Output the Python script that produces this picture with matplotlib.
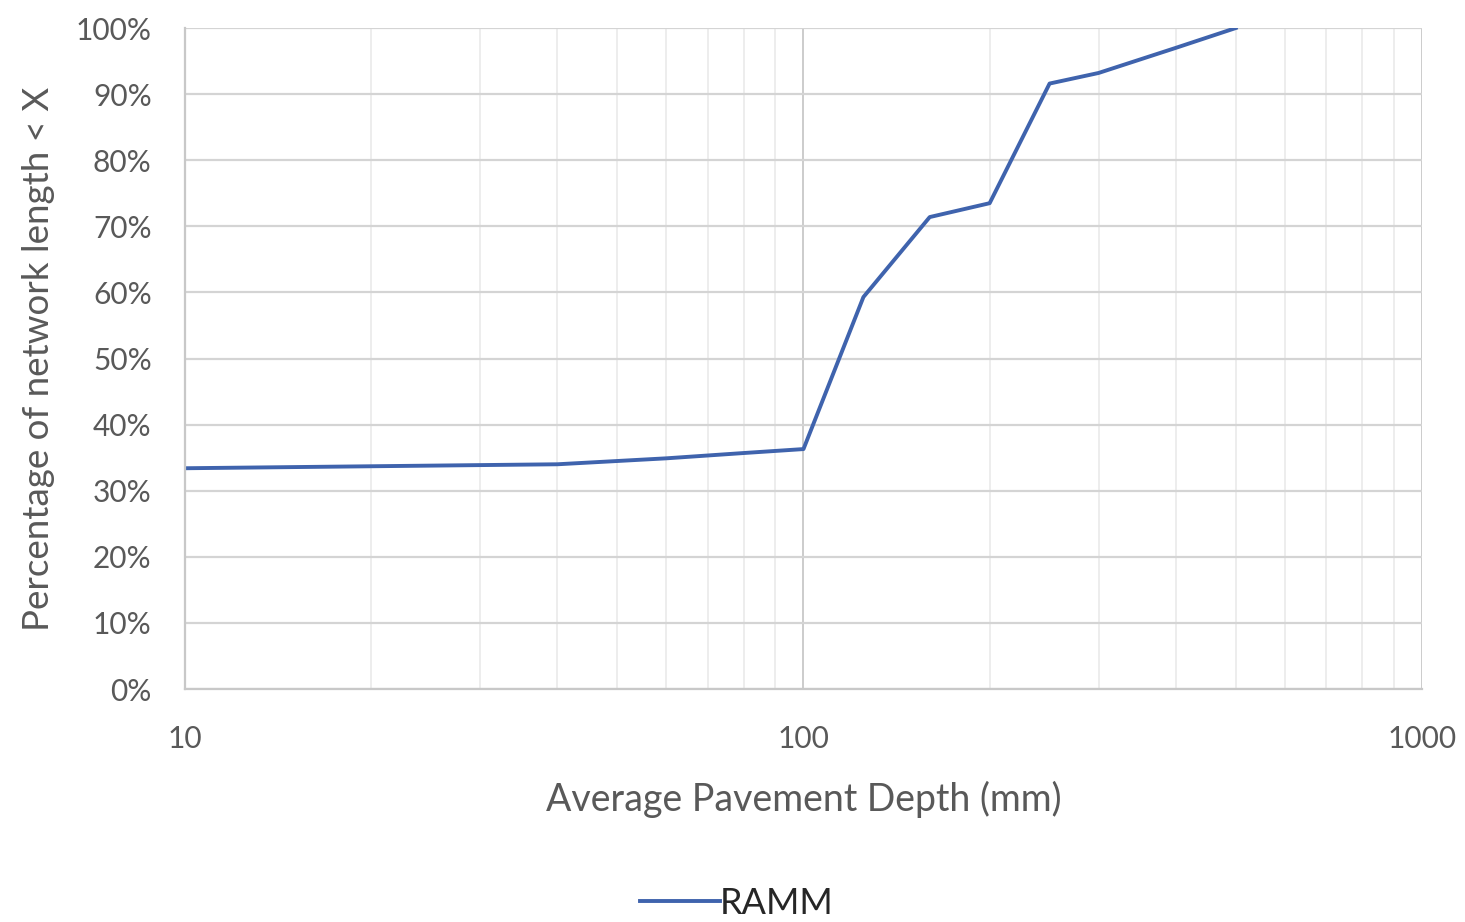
import matplotlib
matplotlib.use("Agg")
from matplotlib import pyplot as plt
from matplotlib.ticker import FixedLocator, FuncFormatter, NullFormatter

depth = [10, 40, 60, 80, 100, 125, 160, 200, 250, 300, 400, 500]
pct = [33.4, 34.0, 34.9, 35.7, 36.3, 59.3, 71.4, 73.5, 91.6, 93.2, 97.0, 100.0]
series_name = "RAMM"
x_ticks = [10, 100, 1000]
y_ticks = list(range(0, 101, 10))

plt.rcParams['font.family'] = ['Lato', 'DejaVu Sans']

fig = plt.figure(figsize=(14.65, 9.22), dpi=100)
ax = fig.add_axes([0.1263, 0.2527, 0.8443, 0.7169])

ax.plot(depth, pct, color='#3f63ad', linewidth=2.8, label=series_name)

ax.set_xscale('log')
ax.set_xlim(10, 1000)
ax.set_ylim(0, 100)
ax.xaxis.set_major_locator(FixedLocator(x_ticks))
ax.xaxis.set_major_formatter(FuncFormatter(lambda v, p: '%d' % v))
ax.xaxis.set_minor_formatter(NullFormatter())
ax.yaxis.set_major_locator(FixedLocator(y_ticks))
ax.yaxis.set_major_formatter(FuncFormatter(lambda v, p: '%d%%' % v))

ax.grid(True, which='major', axis='y', color='#d4d4d4', linewidth=1.6)
ax.grid(True, which='major', axis='x', color='#c8c8c8', linewidth=1.3)
ax.grid(True, which='minor', axis='x', color='#ececec', linewidth=1.3)
ax.set_axisbelow(True)

for s in ['top', 'right']:
    ax.spines[s].set_visible(False)
for s in ['left', 'bottom']:
    ax.spines[s].set_color('#c8c8c8')
    ax.spines[s].set_linewidth(1.6)

ax.tick_params(which='both', length=0, labelsize=21.5, labelcolor='#595959')
ax.tick_params(axis='x', pad=26)
ax.tick_params(axis='y', pad=24)

ax.set_xlabel('Average Pavement Depth (mm)', fontsize=27, color='#595959', labelpad=20)
ax.set_ylabel('Percentage of network length < X', fontsize=26.5, color='#595959', labelpad=15)

fig.legend(loc='center', bbox_to_anchor=(0.503, 0.02), frameon=False, fontsize=26,
           handlelength=2.2, handletextpad=0.0, labelcolor='#262626')

fig.savefig('out.png', dpi=100)
